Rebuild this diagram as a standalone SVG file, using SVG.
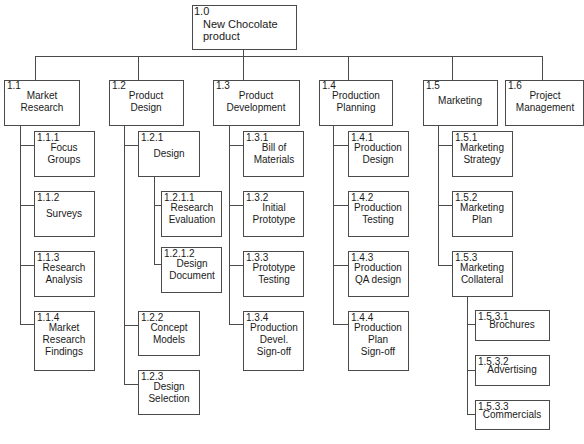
<svg xmlns="http://www.w3.org/2000/svg" width="584" height="444" viewBox="0 0 584 444">
<style>
rect{fill:#fff;stroke:#4a4a4a;stroke-width:1}
.c{fill:none;stroke:#4a4a4a;stroke-width:1}
text{font-family:"Liberation Sans",Arial,sans-serif;font-size:10px;fill:#1a1a1a}
.m{text-anchor:middle}
.r{font-size:11px}
</style>
<rect x="0" y="0" width="584" height="444" style="fill:#fff;stroke:none"/>
<g id="connectors" class="c">
<path d="M243.5 49V56.5M35.5 56.5H542.5M35.5 56V80M138.5 56V80M243.5 56V80M348.5 56V80M452.5 56V80M542.5 56V80"/>
<path d="M20.5 125V324.5M20 145.5H34M20 205.5H34M20 265.5H34M20 324.5H34"/>
<path d="M124.5 125V384.5M124 145.5H138M124 325.5H138M124 384.5H138"/>
<path d="M154.5 176V264.5M154 205.5H161M154 264.5H161"/>
<path d="M229.5 125V324.5M229 145.5H243M229 205.5H243M229 265.5H243M229 324.5H243"/>
<path d="M333.5 125V324.5M333 145.5H348M333 205.5H348M333 265.5H348M333 324.5H348"/>
<path d="M438.5 125V265.5M438 145.5H452M438 205.5H452M438 265.5H452"/>
<path d="M467.5 296V414.5M467 324.5H475M467 370.5H475M467 414.5H475"/>
</g>
<g id="n1_0"><rect x="192.5" y="5.5" width="104" height="44"/><text class="r" x="194" y="15">1.0</text><text class="r" x="203" y="28">New Chocolate</text><text class="r" x="203" y="40">product</text></g>
<g id="n1_1"><rect x="4.5" y="80.5" width="75" height="45"/><text x="7" y="89">1.1</text><text class="m" x="42" y="99">Market</text><text class="m" x="42" y="111">Research</text></g>
<g id="n1_2"><rect x="109.5" y="80.5" width="74" height="45"/><text x="112" y="89">1.2</text><text class="m" x="146" y="99">Product</text><text class="m" x="146" y="111">Design</text></g>
<g id="n1_3"><rect x="213.5" y="80.5" width="86" height="45"/><text x="216" y="89">1.3</text><text class="m" x="256" y="99">Product</text><text class="m" x="256" y="111">Development</text></g>
<g id="n1_4"><rect x="319.5" y="80.5" width="73" height="45"/><text x="322" y="89">1.4</text><text class="m" x="356" y="99">Production</text><text class="m" x="356" y="111">Planning</text></g>
<g id="n1_5"><rect x="423.5" y="80.5" width="74" height="45"/><text x="426" y="89">1.5</text><text class="m" x="460" y="104">Marketing</text></g>
<g id="n1_6"><rect x="505.5" y="80.5" width="78" height="45"/><text x="508" y="89">1.6</text><text class="m" x="545" y="99">Project</text><text class="m" x="545" y="111">Management</text></g>

<g id="n1_1_1"><rect x="34.5" y="131.5" width="60" height="45"/><text x="37" y="141">1.1.1</text><text class="m" x="64" y="151">Focus</text><text class="m" x="64" y="163">Groups</text></g>
<g id="n1_1_2"><rect x="34.5" y="191.5" width="60" height="45"/><text x="37" y="201">1.1.2</text><text class="m" x="64" y="217">Surveys</text></g>
<g id="n1_1_3"><rect x="34.5" y="251.5" width="60" height="45"/><text x="37" y="261">1.1.3</text><text class="m" x="64" y="271">Research</text><text class="m" x="64" y="283">Analysis</text></g>
<g id="n1_1_4"><rect x="34.5" y="311.5" width="60" height="59"/><text x="37" y="321">1.1.4</text><text class="m" x="64" y="331">Market</text><text class="m" x="64" y="343">Research</text><text class="m" x="64" y="355">Findings</text></g>

<g id="n1_2_1"><rect x="138.5" y="131.5" width="61" height="45"/><text x="141" y="141">1.2.1</text><text class="m" x="169" y="157">Design</text></g>
<g id="n1_2_1_1"><rect x="161.5" y="191.5" width="60" height="45"/><text x="164" y="201">1.2.1.1</text><text class="m" x="192" y="211">Research</text><text class="m" x="192" y="223">Evaluation</text></g>
<g id="n1_2_1_2"><rect x="161.5" y="247.5" width="60" height="45"/><text x="164" y="257">1.2.1.2</text><text class="m" x="192" y="267">Design</text><text class="m" x="192" y="279">Document</text></g>
<g id="n1_2_2"><rect x="138.5" y="311.5" width="61" height="44"/><text x="141" y="321">1.2.2</text><text class="m" x="169" y="331">Concept</text><text class="m" x="169" y="343">Models</text></g>
<g id="n1_2_3"><rect x="138.5" y="370.5" width="61" height="44"/><text x="141" y="380">1.2.3</text><text class="m" x="169" y="390">Design</text><text class="m" x="169" y="402">Selection</text></g>

<g id="n1_3_1"><rect x="243.5" y="131.5" width="60" height="45"/><text x="246" y="141">1.3.1</text><text class="m" x="274" y="151">Bill of</text><text class="m" x="274" y="163">Materials</text></g>
<g id="n1_3_2"><rect x="243.5" y="191.5" width="60" height="45"/><text x="246" y="201">1.3.2</text><text class="m" x="274" y="211">Initial</text><text class="m" x="274" y="223">Prototype</text></g>
<g id="n1_3_3"><rect x="243.5" y="251.5" width="60" height="45"/><text x="246" y="261">1.3.3</text><text class="m" x="274" y="271">Prototype</text><text class="m" x="274" y="283">Testing</text></g>
<g id="n1_3_4"><rect x="243.5" y="311.5" width="60" height="59"/><text x="246" y="321">1.3.4</text><text class="m" x="274" y="331">Production</text><text class="m" x="274" y="343">Devel.</text><text class="m" x="274" y="355">Sign-off</text></g>

<g id="n1_4_1"><rect x="348.5" y="131.5" width="60" height="45"/><text x="351" y="141">1.4.1</text><text class="m" x="378" y="151">Production</text><text class="m" x="378" y="163">Design</text></g>
<g id="n1_4_2"><rect x="348.5" y="191.5" width="60" height="45"/><text x="351" y="201">1.4.2</text><text class="m" x="378" y="211">Production</text><text class="m" x="378" y="223">Testing</text></g>
<g id="n1_4_3"><rect x="348.5" y="251.5" width="60" height="45"/><text x="351" y="261">1.4.3</text><text class="m" x="378" y="271">Production</text><text class="m" x="378" y="283">QA design</text></g>
<g id="n1_4_4"><rect x="348.5" y="311.5" width="60" height="59"/><text x="351" y="321">1.4.4</text><text class="m" x="378" y="331">Production</text><text class="m" x="378" y="343">Plan</text><text class="m" x="378" y="355">Sign-off</text></g>

<g id="n1_5_1"><rect x="452.5" y="131.5" width="60" height="45"/><text x="455" y="141">1.5.1</text><text class="m" x="482" y="151">Marketing</text><text class="m" x="482" y="163">Strategy</text></g>
<g id="n1_5_2"><rect x="452.5" y="191.5" width="60" height="45"/><text x="455" y="201">1.5.2</text><text class="m" x="482" y="211">Marketing</text><text class="m" x="482" y="223">Plan</text></g>
<g id="n1_5_3"><rect x="452.5" y="251.5" width="60" height="45"/><text x="455" y="261">1.5.3</text><text class="m" x="482" y="271">Marketing</text><text class="m" x="482" y="283">Collateral</text></g>
<g id="n1_5_3_1"><rect x="475.5" y="310.5" width="74" height="30"/><text x="478" y="320">1.5.3.1</text><text class="m" x="512" y="328">Brochures</text></g>
<g id="n1_5_3_2"><rect x="475.5" y="355.5" width="74" height="30"/><text x="478" y="365">1.5.3.2</text><text class="m" x="512" y="373">Advertising</text></g>
<g id="n1_5_3_3"><rect x="475.5" y="400.5" width="74" height="29"/><text x="478" y="410">1.5.3.3</text><text class="m" x="512" y="418">Commercials</text></g>
</svg>
